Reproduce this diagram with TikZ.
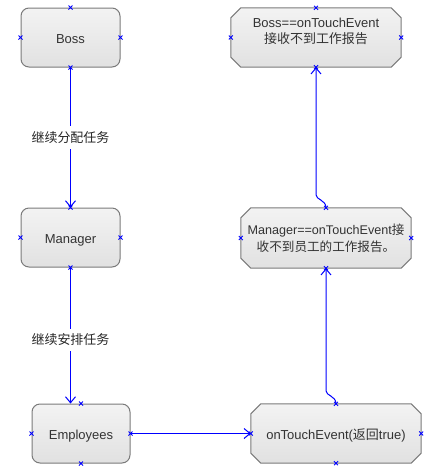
\documentclass[tikz,border=0pt]{standalone}
\usepackage{fontspec}
\setmainfont{Liberation Sans}
\newfontfamily\cjk{Noto Sans CJK SC}
\usetikzlibrary{arrows.meta,calc,backgrounds}
\definecolor{boxline}{HTML}{7A7A7A}
\definecolor{boxtop}{HTML}{F3F3F3}
\definecolor{boxbot}{HTML}{E1E1E1}
\definecolor{txt}{HTML}{333333}
\definecolor{conncol}{HTML}{0000FF}
\tikzset{
  base/.style={text=txt, font=\fontsize{13}{16}\selectfont, align=center, inner sep=0pt},
  oneline/.style={text height=12.4pt, text depth=0pt},
  roundbox/.style={base, oneline, draw=boxline, line width=1pt, top color=boxtop, bottom color=boxbot,
    rectangle, rounded corners=8pt, minimum width=99pt, minimum height=59pt},
  chambox/.style={base, rectangle, minimum width=170pt, minimum height=59pt},
  chamfill/.style={draw=boxline, line width=1pt, top color=boxtop, bottom color=boxbot},
  conn/.style={draw=conncol, line width=1pt, -{Straight Barb[length=6pt,width=10pt]}},
  lbl/.style={fill=white, text=black!85, font=\fontsize{13}{16}\selectfont, inner sep=5pt},
  mkline/.style={draw=conncol, line width=0.8pt}
}
\begin{document}
\begin{tikzpicture}[x=1pt,y=-1pt]
\useasboundingbox (0,0) rectangle (445,475);
\node[roundbox] (boss) at (70.5,37.5) {Boss};
\node[chambox] (bossr) at (316,37.5) {\rule{0pt}{12pt}Boss==onTouchEvent\\{\cjk 接收不到工作报告}\\\mbox{}};
\node[roundbox] (mgr) at (70.5,237.5) {Manager};
\node[chambox, minimum height=60pt, font=\fontsize{12.6}{17}\selectfont] (mgrr) at (326,238) {\rule{0pt}{11pt}Manager==onTouchEvent{\cjk 接}\\{\cjk 收不到员工的工作报告。}};
\node[roundbox, minimum width=98pt] (emp) at (81,433.5) {Employees};
\node[chambox, oneline] (ote) at (336,433.5) {onTouchEvent({\cjk 返回}true)};

\begin{scope}[on background layer]
\foreach \n in {bossr,mgrr,ote}
  \path[chamfill] ($(\n.north west)+(10,0)$) -- ($(\n.north east)+(-10,0)$)
    -- ($(\n.north east)+(0,10)$) -- ($(\n.south east)+(0,-10)$)
    -- ($(\n.south east)+(-10,0)$) -- ($(\n.south west)+(10,0)$)
    -- ($(\n.south west)+(0,-10)$) -- ($(\n.north west)+(0,10)$) -- cycle;
\end{scope}

\draw[conn] (boss.south) -- node[lbl] (l1) {\cjk 继续分配任务} (mgr.north);
\coordinate (empin) at (mgr.south |- emp.north);
\draw[conn] (mgr.south) -- node[lbl, pos=0.53] (l2) {\cjk 继续安排任务} (empin);
\draw[conn] (emp.east) -- (ote.west);
\coordinate (k1) at ($(mgrr.south |- ote.north)+(0,-13)$);
\draw[conn] (ote.north) .. controls +(0,-8) and +(0,5) .. (k1) -- (mgrr.south);
\coordinate (k2) at ($(bossr.south |- mgrr.north)+(0,-13)$);
\draw[conn] (mgrr.north) .. controls +(0,-8) and +(0,5) .. (k2) -- (bossr.south);

\foreach \n in {boss,bossr,mgr,mgrr,emp,ote}
  \foreach \a in {north,south,east,west}
    \draw[mkline] (\n.\a) +(-2,-2) -- +(2,2) +(-2,2) -- +(2,-2);
\end{tikzpicture}
\end{document}
